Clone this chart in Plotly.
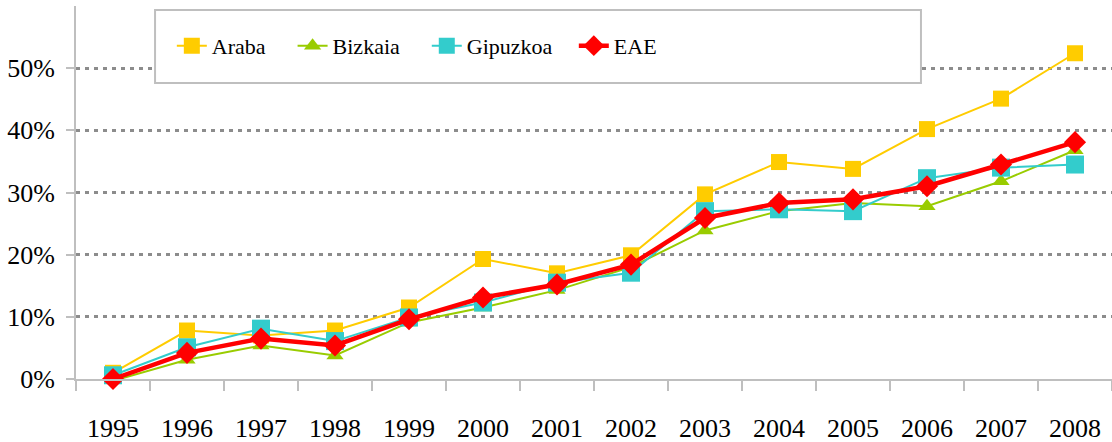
import plotly.graph_objects as go

years = ["1995", "1996", "1997", "1998", "1999", "2000", "2001", "2002",
         "2003", "2004", "2005", "2006", "2007", "2008"]
araba = [0.010, 0.078, 0.070, 0.078, 0.115, 0.193, 0.170, 0.199, 0.297, 0.349, 0.338, 0.402, 0.451, 0.524]
bizkaia = [-0.003, 0.031, 0.054, 0.038, 0.091, 0.115, 0.143, 0.180, 0.239, 0.270, 0.283, 0.278, 0.318, 0.368]
gipuzkoa = [0.006, 0.051, 0.081, 0.061, 0.099, 0.123, 0.155, 0.171, 0.270, 0.273, 0.270, 0.323, 0.340, 0.345]
eae = [0.000, 0.042, 0.065, 0.054, 0.096, 0.131, 0.152, 0.184, 0.259, 0.283, 0.289, 0.310, 0.345, 0.381]
y_ticks = [0, 0.1, 0.2, 0.3, 0.4, 0.5]
y_labels = ["0%", "10%", "20%", "30%", "40%", "50%"]

NB = "\u00a0"
FONT = "'Liberation Serif', 'Times New Roman', 'DejaVu Serif', serif"

fig = go.Figure()
fig.add_trace(go.Scatter(x=years, y=araba, name="Araba" + NB * 4, mode="lines+markers",
                         line=dict(color="#FFCC00", width=2),
                         marker=dict(symbol="square", size=16, color="#FFCC00"), cliponaxis=False))
fig.add_trace(go.Scatter(x=years, y=bizkaia, name="Bizkaia" + NB * 4, mode="lines+markers",
                         line=dict(color="#99CC00", width=2),
                         marker=dict(symbol="triangle-up", size=15, color="#99CC00"), cliponaxis=False))
fig.add_trace(go.Scatter(x=years, y=gipuzkoa, name="Gipuzkoa" + NB * 3, mode="lines+markers",
                         line=dict(color="#33CCCC", width=2),
                         marker=dict(symbol="square", size=18, color="#33CCCC"), cliponaxis=False))
fig.add_trace(go.Scatter(x=years, y=eae, name="EAE", mode="lines+markers",
                         line=dict(color="#FF0000", width=4.5),
                         marker=dict(symbol="diamond", size=17, color="#FF0000"), cliponaxis=False))

fig.add_shape(type="rect", xref="paper", yref="paper",
              x0=0.0763, x1=0.8156, y0=0.7936, y1=0.989,
              line=dict(color="#BFBFBF", width=2), fillcolor="white", layer="above")

fig.update_layout(
    width=1112, height=442,
    margin=dict(l=76, r=0, t=6, b=63),
    paper_bgcolor="white", plot_bgcolor="white",
    font=dict(family=FONT, size=26, color="black"),
    showlegend=True,
    legend=dict(orientation="h", x=0.0925, xanchor="left", y=0.893, yanchor="middle",
                bgcolor="rgba(0,0,0,0)", borderwidth=0,
                font=dict(family=FONT, size=22, color="black")),
    xaxis=dict(type="category", showline=True, linecolor="#BFBFBF", linewidth=2,
               ticks="outside", tickson="boundaries", ticklen=10, tickcolor="#BFBFBF", tickwidth=2,
               showgrid=False, ticklabelstandoff=25, tickfont=dict(family=FONT, size=26),
               range=[-0.5, 13.5]),
    yaxis=dict(range=[0, 0.6], tickvals=y_ticks, ticktext=y_labels,
               showline=True, linecolor="#BFBFBF", linewidth=2,
               ticks="outside", ticklen=8, tickcolor="#BFBFBF", tickwidth=2,
               showgrid=True, gridcolor="#8C8C8C", gridwidth=2.5, griddash="4px,5px",
               zeroline=False, ticklabelstandoff=6, tickfont=dict(family=FONT, size=26)),
)

fig.write_html("out.html", config={"displayModeBar": False},
               post_script="document.body.style.margin='0';document.body.style.overflow='hidden';")
